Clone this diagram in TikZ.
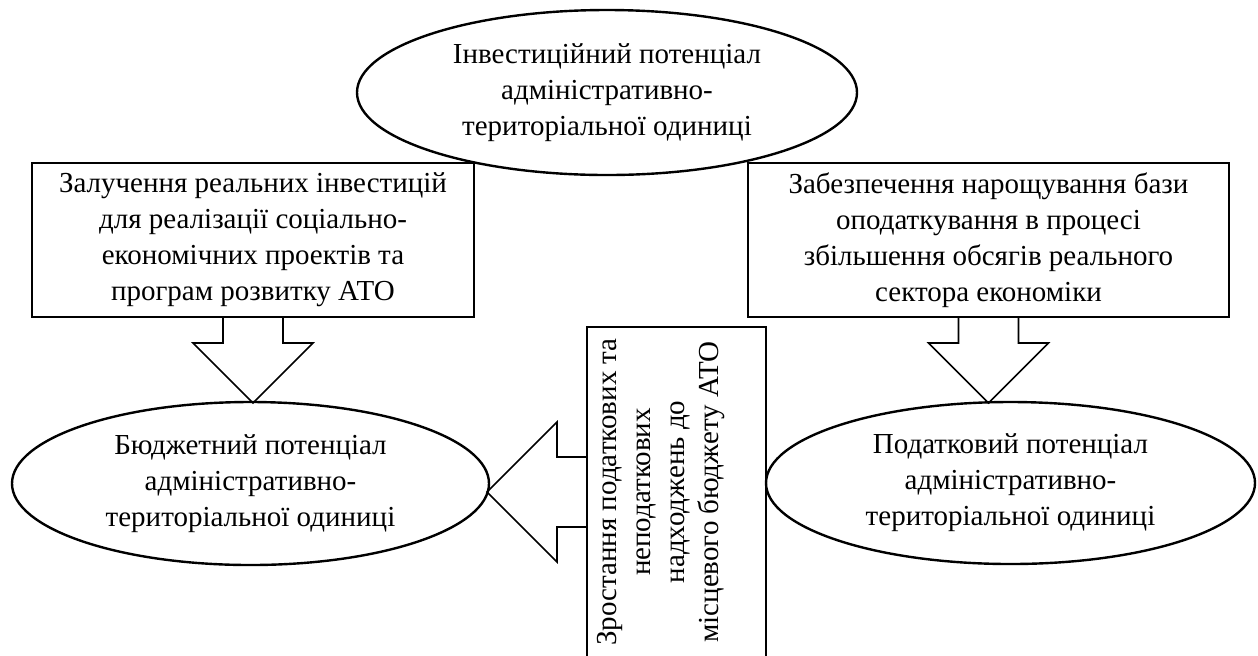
\documentclass[tikz,border=0pt]{standalone}
\usepackage{fontspec}
\setmainfont{Liberation Serif}
\usetikzlibrary{shapes.geometric}
\newcommand{\blockdown}[1]{\draw[blockarrow] (#1) ++(-30,0) -- ++(0,25) -- ++(-30,0) -- ++(60,60) -- ++(60,-60) -- ++(-30,0) -- ++(0,-25);}

\begin{document}
\begin{tikzpicture}[x=0.5pt,y=-0.5pt,color=black,
	potential/.style={draw,ellipse,line width=1.2pt,inner xsep=-8pt,inner ysep=0pt,align=center,font=\fontsize{14.5}{18}\selectfont},
	factorbox/.style={draw,rectangle,line width=1pt,inner sep=0pt,align=center,font=\fontsize{14.5}{18}\selectfont},
	blockarrow/.style={line width=0.8pt,line join=miter}]
\useasboundingbox (0,0) rectangle (1258,655);
\clip (0,0) rectangle (1258,655);
\node(inv) [potential,minimum width=250pt,minimum height=82.5pt] at (607,92.5)
	{Інвестиційний потенціал\\адміністративно-\\територіальної одиниці};
\node(attract) [factorbox,minimum width=221pt,minimum height=77pt] at (253,240)
	{Залучення реальних інвестицій\\для реалізації соціально-\\економічних проектів та\\програм розвитку АТО};
\node(base) [factorbox,minimum width=240.5pt,minimum height=77pt] at (988.5,240)
	{Забезпечення нарощування бази\\оподаткування в процесі\\збільшення обсягів реального\\сектора економіки};
\node(budget) [potential,minimum width=238.5pt,minimum height=81.5pt] at (250.5,483.5)
	{Бюджетний потенціал\\адміністративно-\\територіальної одиниці};
\node(tax) [potential,minimum width=244.5pt,minimum height=81pt] at (1010.5,483)
	{Податковий потенціал\\адміністративно-\\територіальної одиниці};
\node(growth) [factorbox,minimum width=89.5pt,minimum height=196.5pt] at (676.5,523.5) {};
\node(growthtext) [rotate=90,align=center,font=\fontsize{14.5}{17}\selectfont] at (661,492)
	{Зростання податкових та\\неподаткових\\надходжень до\\місцевого бюджету АТО};
\coordinate (ltip) at (488,492);
\blockdown{attract.south}
\blockdown{base.south}
\draw[blockarrow] (ltip -| growth.west) ++(0,-35) -- ++(-29,0) -- ++(0,-35) -- ++(-70,70) -- ++(70,70) -- ++(0,-35) -- ++(29,0);
\end{tikzpicture}
\end{document}
